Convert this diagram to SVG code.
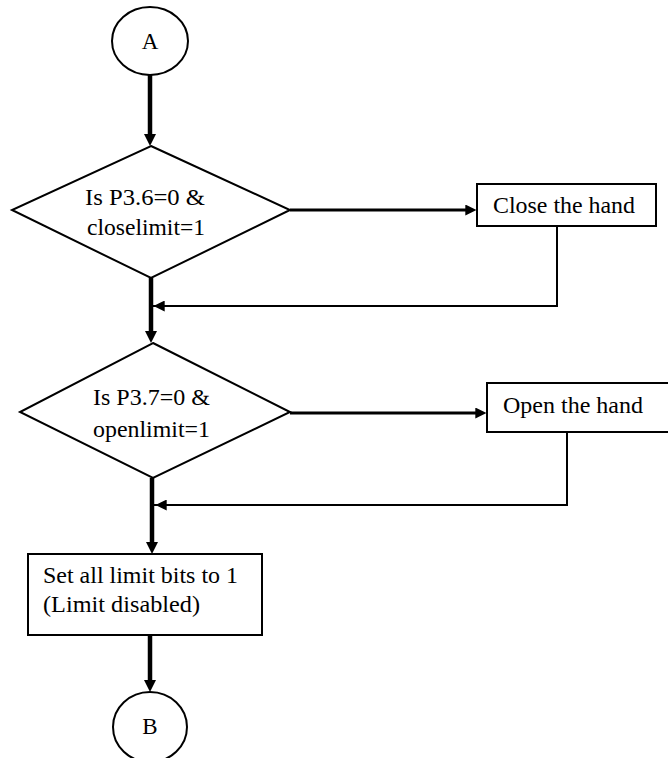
<svg xmlns="http://www.w3.org/2000/svg" width="668" height="758" viewBox="0 0 668 758">
  <defs>
    <marker id="ah" markerUnits="userSpaceOnUse" viewBox="0 0 12 12" refX="4" refY="6" markerWidth="12" markerHeight="12" orient="auto">
      <path d="M0,0 L12,6 L0,12 z" fill="#000"/>
    </marker>
    <marker id="ahs" markerUnits="userSpaceOnUse" viewBox="0 0 12 12" refX="4" refY="6" markerWidth="11" markerHeight="11" orient="auto">
      <path d="M0,0 L12,6 L0,12 z" fill="#000"/>
    </marker>
  </defs>
  <style>
    .shape { fill: #fff; stroke: #000; stroke-width: 2; }
    .t { font-family: "Liberation Serif", "Times New Roman", serif; font-size: 23px; fill: #000; }
    .c { text-anchor: middle; }
    .main { fill: none; stroke: #000; stroke-width: 4.5; }
    .side { fill: none; stroke: #000; stroke-width: 3; }
    .ret { fill: none; stroke: #000; stroke-width: 2; }
  </style>
  <rect width="668" height="758" fill="#fff"/>

  <g id="connectors">
    <path class="main" d="M150,75 L150,138" marker-end="url(#ah)"/>
    <path class="side" d="M290,210 L469,210" marker-end="url(#ahs)"/>
    <path class="ret" d="M557,226 L557,306 L150,306"/>
    <path class="ret" d="M200,306 L161,306" marker-end="url(#ahs)"/>
    <path class="main" d="M151,278 L151,335" marker-end="url(#ah)"/>
    <path class="side" d="M290,413 L479,413" marker-end="url(#ahs)"/>
    <path class="ret" d="M567,432 L567,505 L152,505"/>
    <path class="ret" d="M200,505 L163,505" marker-end="url(#ahs)"/>
    <path class="main" d="M152,478 L152,546" marker-end="url(#ah)"/>
    <path class="main" d="M150,635 L150,684" marker-end="url(#ah)"/>
  </g>

  <g id="start">
    <ellipse class="shape" cx="150" cy="41" rx="38" ry="34"/>
    <text class="t c" x="150" y="49" font-size="19">A</text>
  </g>

  <g id="decision1">
    <polygon class="shape" points="151,146 290,210 151,278 12,210"/>
    <text class="t" x="85" y="205" textLength="120" lengthAdjust="spacingAndGlyphs">Is P3.6=0 &amp;</text>
    <text class="t" x="87" y="235" textLength="118" lengthAdjust="spacingAndGlyphs">closelimit=1</text>
  </g>

  <g id="close">
    <rect class="shape" x="477" y="184" width="179" height="42"/>
    <text class="t" x="493" y="213" textLength="142" lengthAdjust="spacingAndGlyphs">Close the hand</text>
  </g>

  <g id="decision2">
    <polygon class="shape" points="153,343 290,412 153,478 20,412"/>
    <text class="t" x="93" y="405" textLength="117" lengthAdjust="spacingAndGlyphs">Is P3.7=0 &amp;</text>
    <text class="t" x="93" y="437" textLength="117" lengthAdjust="spacingAndGlyphs">openlimit=1</text>
  </g>

  <g id="open">
    <rect class="shape" x="487" y="383" width="190" height="49"/>
    <text class="t" x="503" y="413" textLength="140" lengthAdjust="spacingAndGlyphs">Open the hand</text>
  </g>

  <g id="setbits">
    <rect class="shape" x="28" y="554" width="234" height="81"/>
    <text class="t" x="43" y="583" textLength="195" lengthAdjust="spacingAndGlyphs">Set all limit bits to 1</text>
    <text class="t" x="43" y="612" textLength="157" lengthAdjust="spacingAndGlyphs">(Limit disabled)</text>
  </g>

  <g id="end">
    <ellipse class="shape" cx="150" cy="727" rx="37" ry="35"/>
    <text class="t c" x="150" y="734" font-size="19">B</text>
  </g>
</svg>
